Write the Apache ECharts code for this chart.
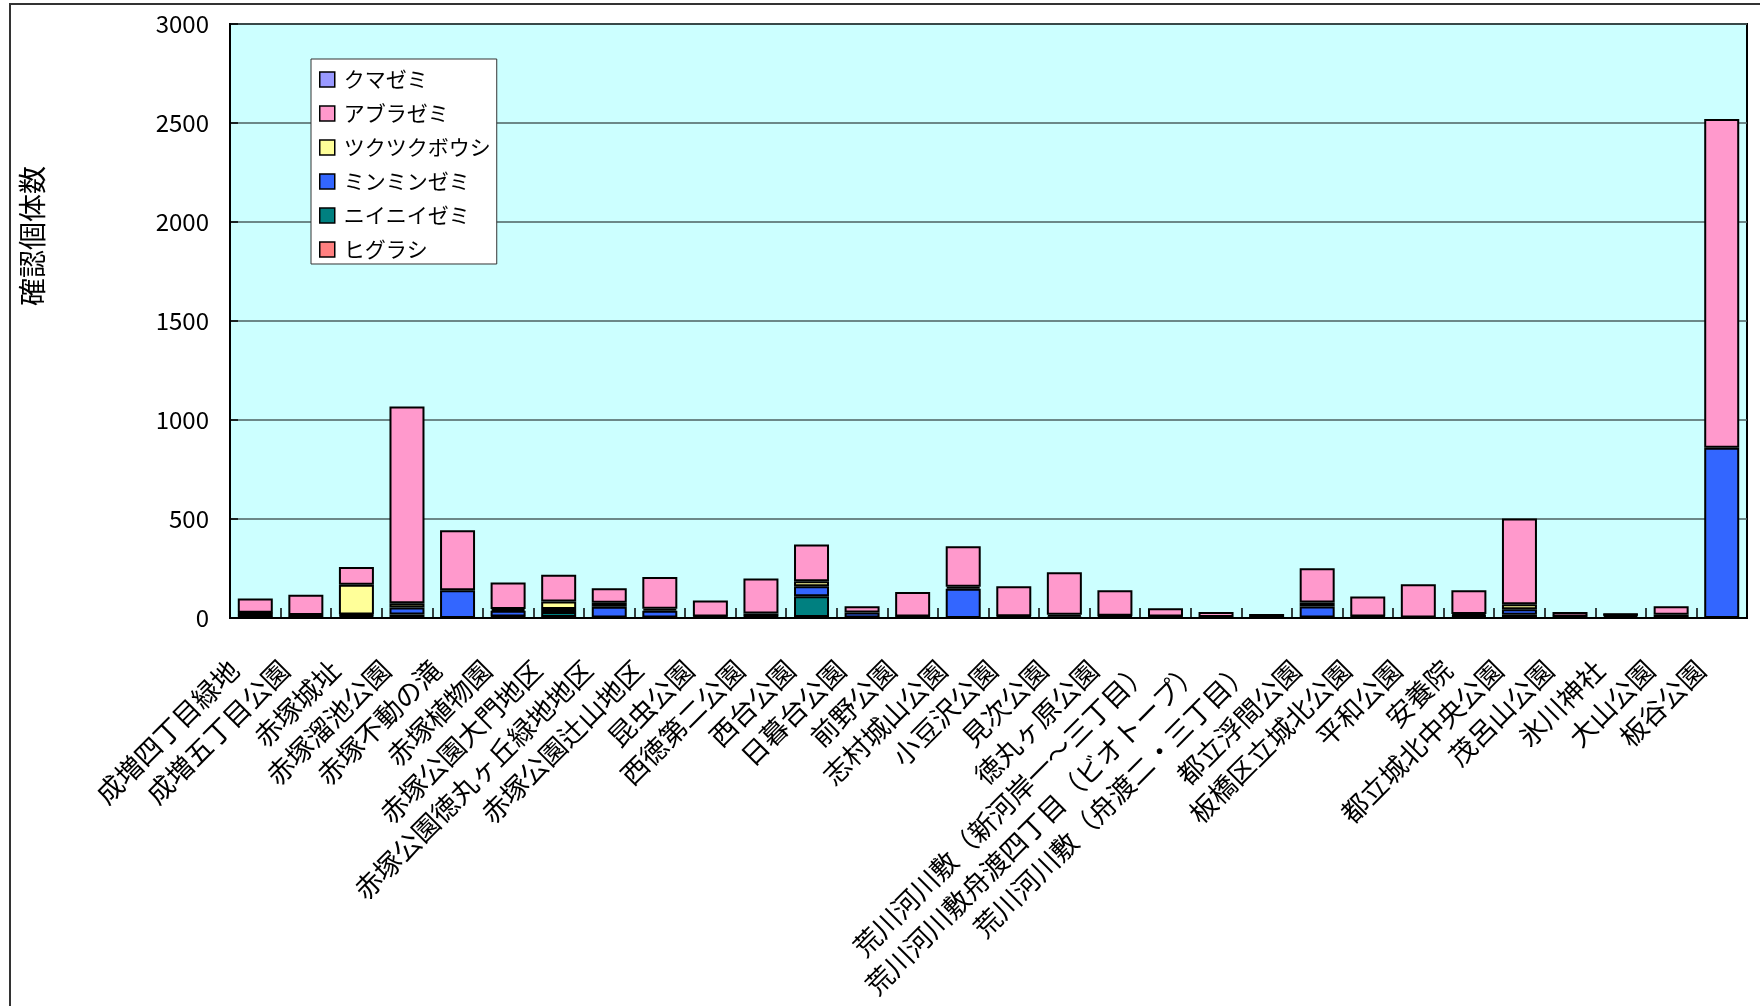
<!DOCTYPE html>
<html>
<head>
<meta charset="utf-8">
<script src="https://cdn.jsdelivr.net/npm/echarts@6/dist/echarts.min.js"></script>
<style>
html,body{margin:0;padding:0;background:#fff;}
#chart{width:1760px;height:1006px;}
</style>
</head>
<body>
<div id="chart"></div>
<script>
const categories = [
  '成増四丁目緑地','成増五丁目公園','赤塚城址','赤塚溜池公園','赤塚不動の滝','赤塚植物園',
  '赤塚公園大門地区','赤塚公園徳丸ヶ丘緑地地区','赤塚公園辻山地区','昆虫公園','西徳第二公園','西台公園',
  '日暮台公園','前野公園','志村城山公園','小豆沢公園','見次公園','徳丸ヶ原公園',
  '荒川河川敷（新河岸一～三丁目）','荒川河川敷舟渡四丁目（ビオトープ）','荒川河川敷（舟渡二・三丁目）',
  '都立浮間公園','板橋区立城北公園','平和公園','安養院','都立城北中央公園','茂呂山公園','氷川神社','大山公園','板谷公園'
];
const yTicks = [0, 500, 1000, 1500, 2000, 2500, 3000];
const legendOrder = ['クマゼミ','アブラゼミ','ツクツクボウシ','ミンミンゼミ','ニイニイゼミ','ヒグラシ'];

const higurashi  = [3,3,8,5,0,5,5,2,2,4,5,5,3,5,0,6,6,8,5,5,3,3,5,3,8,4,5,10,4,0];
const niiniizemi = [3,0,5,13,0,3,25,0,0,0,3,105,0,0,0,0,0,0,0,0,0,0,0,0,5,12,0,4,0,0];
const minminzemi = [18,12,5,35,140,28,15,55,35,4,15,50,25,2,148,3,10,3,2,0,0,55,3,0,7,28,2,4,13,860];
const tsukutsuku = [2,0,150,22,0,10,38,20,10,0,0,25,0,0,10,0,0,0,0,0,0,20,0,0,0,25,0,0,0,0];
const aburazemi  = [72,103,90,993,303,133,135,73,160,80,176,186,31,124,205,151,215,129,42,25,17,173,100,167,120,434,23,2,42,1660];
const kumazemi   = [0,0,0,0,0,0,0,0,0,0,0,0,0,0,0,0,0,0,0,0,0,0,0,0,0,0,0,0,0,0];

// stacked bottom -> top
const stackSeries = [
  {name:'ヒグラシ', data: higurashi, color:'#FF8080'},
  {name:'ニイニイゼミ', data: niiniizemi, color:'#008080'},
  {name:'ミンミンゼミ', data: minminzemi, color:'#3366FF'},
  {name:'ツクツクボウシ', data: tsukutsuku, color:'#FFFF99'},
  {name:'アブラゼミ', data: aburazemi, color:'#FF99CC'},
  {name:'クマゼミ', data: kumazemi, color:'#9999FF'}
];

const FONT = '"Noto Sans CJK JP", "Noto Sans", sans-serif';
const chart = echarts.init(document.getElementById('chart'), null, {renderer:'canvas'});

chart.setOption({
  animation: false,
  backgroundColor: '#ffffff',
  textStyle: {fontFamily: FONT, color: '#000'},
  grid: {
    left: 230, top: 24, right: 13, bottom: 388,
    show: true, backgroundColor: '#CCFFFF', borderColor: '#000', borderWidth: 2
  },
  legend: {
    data: legendOrder,
    orient: 'vertical',
    left: 311, top: 59,
    backgroundColor: '#fff',
    borderColor: '#333', borderWidth: 1,
    padding: [10, 6, 4, 8],
    itemWidth: 15, itemHeight: 15, itemGap: 13,
    icon: 'rect',
    itemStyle: {borderColor: '#000', borderWidth: 1.5},
    textStyle: {fontSize: 21, fontFamily: FONT, color: '#000', padding: [0,0,0,4]}
  },
  xAxis: {
    type: 'category',
    data: categories,
    axisLine: {lineStyle: {color: '#000', width: 2}},
    axisTick: {show: true, inside: true, length: 10, lineStyle: {color: '#000', width: 1.5}},
    axisLabel: {
      interval: 0, rotate: 45, fontSize: 27, color: '#000', fontFamily: FONT,
      margin: 26, padding: [0, 30, 0, 0]
    },
    splitLine: {show: false}
  },
  yAxis: {
    type: 'value',
    min: yTicks[0], max: yTicks[yTicks.length - 1], interval: yTicks[1] - yTicks[0],
    axisLine: {show: true, lineStyle: {color: '#000', width: 2}},
    axisTick: {show: true, inside: true, length: 8, lineStyle: {color: '#000', width: 1.5}},
    axisLabel: {fontSize: 24, color: '#000', margin: 21, fontFamily: FONT, formatter: v => String(v)},
    splitLine: {show: true, lineStyle: {color: '#4d6161', width: 1.5}}
  },
  graphic: [
    {
      type: 'rect', silent: true, z: -1,
      shape: {x: 10, y: 4, width: 1800, height: 1100},
      style: {fill: 'none', stroke: '#333', lineWidth: 2}
    },
    {
      type: 'text', x: 32, y: 236, rotation: Math.PI / 2,
      style: {text: '確認個体数', fontSize: 28, fontFamily: FONT, fill: '#000', align: 'center', verticalAlign: 'middle'}
    }
  ],
  series: stackSeries.map(s => ({
    name: s.name,
    type: 'bar',
    stack: 'total',
    barWidth: 35,
    data: s.data.map(v => v === 0 ? '-' : v),
    itemStyle: {color: s.color, borderColor: '#000', borderWidth: 2}
  }))
});
</script>
</body>
</html>
